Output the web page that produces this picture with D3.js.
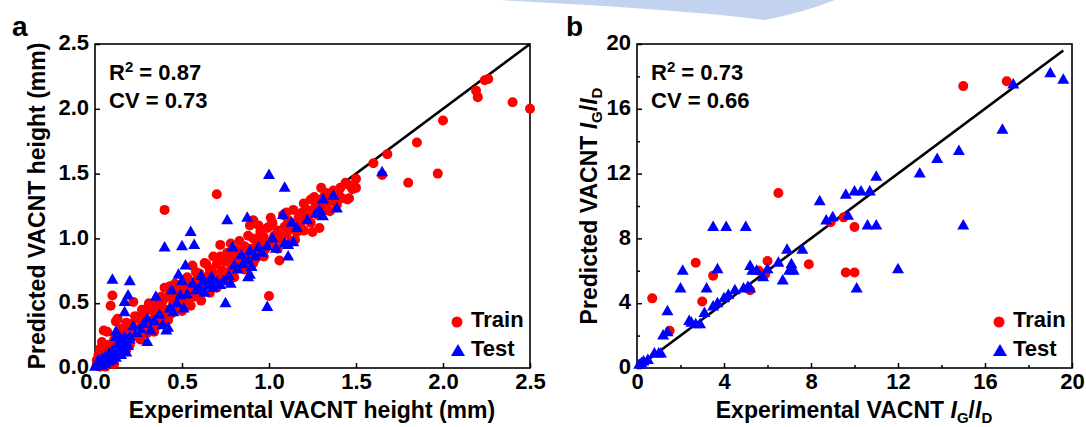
<!DOCTYPE html>
<html>
<head>
<meta charset="utf-8">
<script src="https://cdn.jsdelivr.net/npm/d3@7"></script>
<style>
  body { margin: 0; background: #fff; }
  text { font-family: "Liberation Sans", Arial, sans-serif; font-weight: bold; fill: #000; }
</style>
</head>
<body>
<div id="chart"></div>
<script>

// ---- panel a : VACNT height (mm), [experimental, predicted] ----
var heightTrain = [
  [0.01,0.02],[0.02,0.05],[0.03,0.01],[0.03,0.15],[0.04,0.08],[0.05,0.03],[0.05,0.29],[0.06,0.12],
  [0.07,0.05],[0.08,0.18],[0.09,0.14],[0.09,0.48],[0.10,0.56],[0.10,0.08],[0.11,0.22],[0.12,0.36],
  [0.12,0.10],[0.13,0.17],[0.14,0.26],[0.15,0.12],[0.16,0.20],[0.17,0.30],[0.18,0.14],[0.19,0.24],
  [0.20,0.18],[0.21,0.34],[0.22,0.51],[0.22,0.26],[0.01,0.06],[0.02,0.10],[0.04,0.20],[0.06,0.01],
  [0.08,0.07],[0.11,0.03],[0.07,0.28],[0.13,0.38],[0.15,0.30],[0.18,0.35],[0.23,0.40],
  [0.24,0.30],[0.25,0.38],[0.26,0.22],[0.27,0.33],[0.28,0.42],[0.29,0.27],[0.30,0.46],[0.30,0.27],
  [0.31,0.36],[0.32,0.30],[0.33,0.44],[0.34,0.38],[0.35,0.49],[0.36,0.33],[0.37,0.47],[0.38,0.40],
  [0.39,0.52],[0.40,0.62],[0.40,0.36],[0.41,0.45],[0.42,0.55],[0.43,0.63],[0.44,0.42],[0.45,0.50],
  [0.46,0.57],[0.47,0.46],[0.48,0.60],[0.49,0.52],[0.50,0.44],[0.40,1.22],
  [0.27,0.45],[0.31,0.50],[0.34,0.28],[0.38,0.55],[0.42,0.37],[0.46,0.65],[0.50,0.60],
  [0.51,0.58],[0.52,0.64],[0.53,0.50],[0.54,0.60],[0.55,0.66],[0.56,0.79],[0.57,0.55],[0.58,0.63],
  [0.59,0.70],[0.60,0.73],[0.61,0.58],[0.62,0.66],[0.63,0.81],[0.64,0.62],[0.65,0.71],[0.66,0.76],
  [0.67,0.64],[0.68,0.86],[0.68,0.73],[0.69,0.69],[0.70,0.80],[0.70,1.34],[0.71,0.66],[0.72,0.86],
  [0.73,0.75],[0.74,0.70],[0.75,0.82],[0.76,0.89],[0.77,0.74],[0.78,0.80],[0.79,0.86],
  [0.53,0.70],[0.55,0.48],[0.58,0.74],[0.61,0.52],[0.64,0.80],[0.66,0.58],[0.70,0.62],[0.72,0.95],
  [0.75,0.68],[0.78,0.96],
  [0.80,0.76],[0.81,0.91],[0.82,0.84],[0.83,0.78],[0.84,0.90],[0.85,0.82],[0.86,0.94],[0.87,0.85],
  [0.88,0.80],[0.89,1.10],[0.89,0.92],[0.90,0.86],[0.91,1.14],[0.91,1.00],[0.91,0.81],[0.92,0.93],
  [0.93,0.88],[0.94,0.98],[0.95,1.05],[0.95,0.90],[0.96,0.95],[0.97,1.01],[0.98,0.92],[0.99,1.08],
  [1.00,0.555],[1.00,1.09],[1.00,0.97],
  [0.80,0.70],[0.83,0.98],[0.86,0.76],[0.88,1.02],[0.92,0.84],[0.94,1.10],[0.97,0.86],
  [1.02,1.12],[1.03,1.02],[1.04,0.95],[1.05,1.06],[1.06,0.83],[1.07,1.00],[1.08,1.18],[1.09,1.09],
  [1.10,1.03],[1.11,1.14],[1.12,1.07],[1.13,0.98],[1.14,1.22],[1.15,1.11],[1.16,1.05],[1.17,1.16],
  [1.18,1.10],[1.19,1.20],[1.20,1.27],[1.21,1.15],[1.22,1.22],[1.23,1.19],[1.24,1.12],[1.25,1.05],
  [1.26,1.32],[1.26,1.22],[1.27,1.26],[1.28,1.18],[1.29,1.08],[1.30,1.39],[1.30,1.30],[1.31,1.24],
  [1.32,1.33],[1.33,1.35],[1.34,1.28],[1.35,1.21],[1.36,1.32],[1.37,1.37],[1.38,1.30],[1.39,1.26],
  [1.40,1.34],[1.41,1.39],[1.42,1.31],[1.44,1.43],[1.45,1.30],[1.46,1.31],[1.46,1.41],[1.48,1.38],
  [1.50,1.46],[1.50,1.39],
  [1.01,1.16],[1.05,0.92],[1.10,1.20],[1.15,0.99],[1.20,1.06],[1.24,1.30],[1.33,1.22],
  [1.60,1.58],[1.65,1.49],[1.68,1.65],[1.80,1.43],[1.85,1.74],[1.97,1.50],[2.00,1.91],[2.19,2.14],
  [2.20,2.09],[2.24,2.22],[2.26,2.23],[2.40,2.05],[2.50,2.00]
];

var heightTest = [
  [0.00,0.01],[0.01,0.03],[0.02,0.02],[0.02,0.06],[0.03,0.04],[0.04,0.07],[0.04,0.02],[0.05,0.05],
  [0.06,0.09],[0.06,0.03],[0.07,0.06],[0.08,0.11],[0.08,0.05],[0.09,0.08],[0.10,0.13],[0.10,0.06],
  [0.11,0.10],[0.12,0.15],[0.12,0.08],[0.13,0.18],[0.14,0.12],[0.15,0.10],[0.15,0.20],[0.16,0.14],
  [0.17,0.24],[0.18,0.12],[0.19,0.17],[0.20,0.22],[0.10,0.68],[0.20,0.67],[0.19,0.56],[0.17,0.51],
  [0.17,0.43],[0.13,0.26],[0.12,0.24],[0.12,0.28],[0.22,0.32],[0.20,0.24],
  [0.24,0.27],[0.26,0.30],[0.28,0.34],[0.30,0.20],[0.30,0.38],[0.32,0.29],[0.34,0.36],[0.35,0.55],
  [0.37,0.41],[0.39,0.33],[0.40,0.93],[0.41,0.29],[0.42,0.31],[0.43,0.46],[0.44,0.60],[0.45,0.43],
  [0.47,0.50],[0.48,0.72],[0.49,0.56],
  [0.50,0.67],[0.50,0.94],[0.51,0.46],[0.52,0.79],[0.53,0.57],[0.55,1.05],[0.56,0.65],[0.57,0.95],
  [0.58,0.60],[0.60,0.62],[0.61,0.71],[0.62,0.67],[0.63,0.58],[0.65,0.64],[0.66,0.68],[0.67,0.70],
  [0.68,0.62],[0.70,0.66],[0.72,0.64],[0.74,0.67],[0.75,0.50],[0.76,1.14],[0.77,0.71],[0.78,0.65],
  [0.79,0.93],[0.80,0.79],
  [0.82,0.76],[0.84,0.87],[0.85,0.80],[0.88,0.83],[0.875,1.16],[0.88,0.70],[0.89,0.72],[0.89,0.90],
  [0.90,0.78],[0.92,0.86],[0.94,0.93],[0.96,0.89],[0.99,0.94],[0.99,0.47],[1.00,1.49],
  [1.02,1.00],[1.04,0.92],[1.08,1.18],[1.09,1.39],[1.09,0.96],[1.11,0.95],[1.11,0.86],[1.13,1.12],
  [1.14,0.97],[1.16,1.08],[1.22,1.14],[1.27,1.19],[1.29,1.22],[1.31,1.30],[1.31,1.17],[1.37,1.33],
  [1.39,1.23],[1.65,1.51]
];

// ---- panel b : VACNT IG/ID ----
var ratioTrain = [
  [0.7,4.3],[1.5,2.3],[2.7,6.5],[3.0,4.1],[3.5,5.7],[5.2,4.8],[5.6,6.0],[5.9,5.8],[6.0,6.6],
  [6.5,10.8],[7.9,6.4],[8.9,9.0],[9.5,9.3],[9.6,5.9],[10.0,5.9],[10.0,8.7],[15.0,17.4],[17.0,17.7]
];

var ratioTest = [
  [0.1,0.2],[0.2,0.3],[0.3,0.4],[0.5,0.5],[0.8,0.9],[1.0,0.9],[1.1,0.9],[1.2,2.0],[1.4,2.2],
  [1.4,3.5],[2.0,4.9],[2.1,6.0],[2.4,2.9],[2.5,2.8],[2.7,2.7],[2.9,2.7],[3.1,3.4],[3.2,4.9],
  [3.5,8.7],[4.1,8.7],[5.0,8.7],[3.7,6.1],[3.5,3.8],[3.7,4.0],[4.0,4.3],[4.2,4.5],[4.5,4.8],
  [4.9,4.9],[5.1,5.0],[5.2,4.9],[5.2,6.3],[5.3,6.0],[5.5,6.0],[5.8,5.6],[6.0,6.1],[6.5,6.5],
  [6.7,5.4],[6.9,7.3],[7.0,6.0],[7.1,6.4],[7.2,6.0],[7.6,7.3],[8.4,10.3],[8.7,9.1],[9.0,9.3],
  [9.7,9.4],[9.6,10.7],[10.0,10.9],[10.3,10.9],[10.7,10.9],[11.0,11.8],[10.1,4.9],[10.6,8.8],
  [11.0,8.8],[15.0,8.8],[12.0,6.1],[13.0,12.0],[13.8,12.9],[14.8,13.4],[16.8,14.7],[17.3,17.5],
  [19.0,18.2],[19.6,17.8]
];

var heightTicks = [0, 0.5, 1.0, 1.5, 2.0, 2.5];
var ratioTicks = [0, 4, 8, 12, 16, 20];
var ratioMinor = [2, 6, 10, 14, 18];

var svg = d3.select("#chart").append("svg")
  .attr("width", 1086)
  .attr("height", 427);

// faint watermark swoosh at the top
svg.append("path")
  .attr("d", "M500,0 Q690,10 765,20 Q805,12 835,0 Z")
  .attr("fill", "#c3d3ef");

var tri = "M0,-6.5L6,4L-6,4Z";

function drawPanel(p) {
  var x = d3.scaleLinear().domain(p.domain).range([p.left, p.left + 435]);
  var y = d3.scaleLinear().domain(p.domain).range([p.top + 324, p.top]);
  var g = svg.append("g");

  // frame
  g.append("rect")
    .attr("x", p.left).attr("y", p.top)
    .attr("width", 435).attr("height", 324)
    .attr("fill", "none").attr("stroke", "#000").attr("stroke-width", 1.6);

  var xAxis = g.append("g")
    .attr("transform", `translate(0, ${p.top + 324})`)
    .call(d3.axisBottom(x).tickValues(p.ticks).tickSize(-5).tickPadding(5).tickFormat(p.fmt));
  var yAxis = g.append("g")
    .attr("transform", `translate(${p.left}, 0)`)
    .call(d3.axisLeft(y).tickValues(p.ticks).tickSize(-5).tickPadding(6).tickFormat(p.fmt));
  [xAxis, yAxis].forEach(function(a) {
    a.select(".domain").remove();
    a.selectAll("line").attr("stroke", "#000").attr("stroke-width", 1.5);
    a.selectAll("text").attr("font-size", 22).attr("font-family", "Liberation Sans, Arial, sans-serif")
      .attr("font-weight", "bold").attr("fill", "#000");
  });
  yAxis.selectAll("text").attr("dy", "0.26em");

  if (p.minor) {
    g.append("g").attr("transform", `translate(0, ${p.top + 324})`)
      .call(d3.axisBottom(x).tickValues(p.minor).tickSize(-3).tickFormat(""))
      .call(s => s.select(".domain").remove())
      .selectAll("line").attr("stroke-width", 1.5);
    g.append("g").attr("transform", `translate(${p.left}, 0)`)
      .call(d3.axisLeft(y).tickValues(p.minor).tickSize(-3).tickFormat(""))
      .call(s => s.select(".domain").remove())
      .selectAll("line").attr("stroke-width", 1.5);
  }

  // y = x line
  g.append("line")
    .attr("x1", x(0)).attr("y1", y(0))
    .attr("x2", x(p.lineEnd)).attr("y2", y(p.lineEnd))
    .attr("stroke", "#000").attr("stroke-width", 2.6);

  g.selectAll("circle.train")
    .data(p.train)
    .enter()
    .append("circle")
    .attr("class", "train")
    .attr("cx", d => x(d[0]))
    .attr("cy", d => y(d[1]))
    .attr("r", 5)
    .attr("fill", "#ff0000");

  g.selectAll("path.test")
    .data(p.test)
    .enter()
    .append("path")
    .attr("class", "test")
    .attr("d", tri)
    .attr("transform", d => `translate(${x(d[0])}, ${y(d[1])})`)
    .attr("fill", "#0000ff");

  // stats
  var st = g.append("text").attr("x", p.left + 14).attr("y", 80).attr("font-size", 22);
  st.append("tspan").text("R");
  st.append("tspan").attr("dy", -8).attr("font-size", 15).text("2");
  st.append("tspan").attr("dy", 8).text(" = " + p.r2);
  g.append("text").attr("x", p.left + 14).attr("y", 108).attr("font-size", 22).text("CV = " + p.cv);

  // legend
  var lx = p.left + 362;
  g.append("circle").attr("cx", lx).attr("cy", 322).attr("r", 5.5).attr("fill", "#ff0000");
  g.append("text").attr("x", lx + 14).attr("y", 327).attr("font-size", 22).text("Train");
  g.append("path").attr("d", "M0,-7L7,5L-7,5Z").attr("transform", `translate(${lx + 1}, 351)`).attr("fill", "#0000ff");
  g.append("text").attr("x", lx + 14).attr("y", 356).attr("font-size", 22).text("Test");

  // panel letter
  g.append("text").attr("x", p.letterX).attr("y", 36).attr("font-size", 28).text(p.letter);

  // axis titles
  var xt = g.append("text").attr("x", p.left + 217).attr("y", 418)
    .attr("text-anchor", "middle").attr("font-size", 23);
  var yt = g.append("text")
    .attr("transform", `translate(${p.left - p.yTitleGap}, ${p.top + 162}) rotate(-90)`)
    .attr("text-anchor", "middle").attr("font-size", 23);
  p.titles(xt, yt);
}

function ratioTitle(t, lead) {
  t.append("tspan").text(lead + " ");
  t.append("tspan").attr("font-style", "italic").text("I");
  t.append("tspan").attr("font-size", 15).attr("dy", 5).text("G");
  t.append("tspan").attr("dy", -5).text("/");
  t.append("tspan").attr("font-style", "italic").text("I");
  t.append("tspan").attr("font-size", 15).attr("dy", 5).text("D");
}

drawPanel({
  left: 95, top: 44, domain: [0, 2.5], ticks: heightTicks, fmt: d3.format(".1f"),
  lineEnd: 2.5, train: heightTrain, test: heightTest, r2: "0.87", cv: "0.73",
  letter: "a", letterX: 12, yTitleGap: 50,
  titles: function(xt, yt) {
    xt.text("Experimental VACNT height (mm)");
    yt.text("Predicted VACNT height (mm)");
  }
});

drawPanel({
  left: 637, top: 44, domain: [0, 20], ticks: ratioTicks, minor: ratioMinor, fmt: d3.format("d"),
  lineEnd: 19.6, train: ratioTrain, test: ratioTest, r2: "0.73", cv: "0.66",
  letter: "b", letterX: 566, yTitleGap: 40,
  titles: function(xt, yt) {
    ratioTitle(xt, "Experimental VACNT");
    ratioTitle(yt, "Predicted VACNT");
  }
});

</script>
</body>
</html>
